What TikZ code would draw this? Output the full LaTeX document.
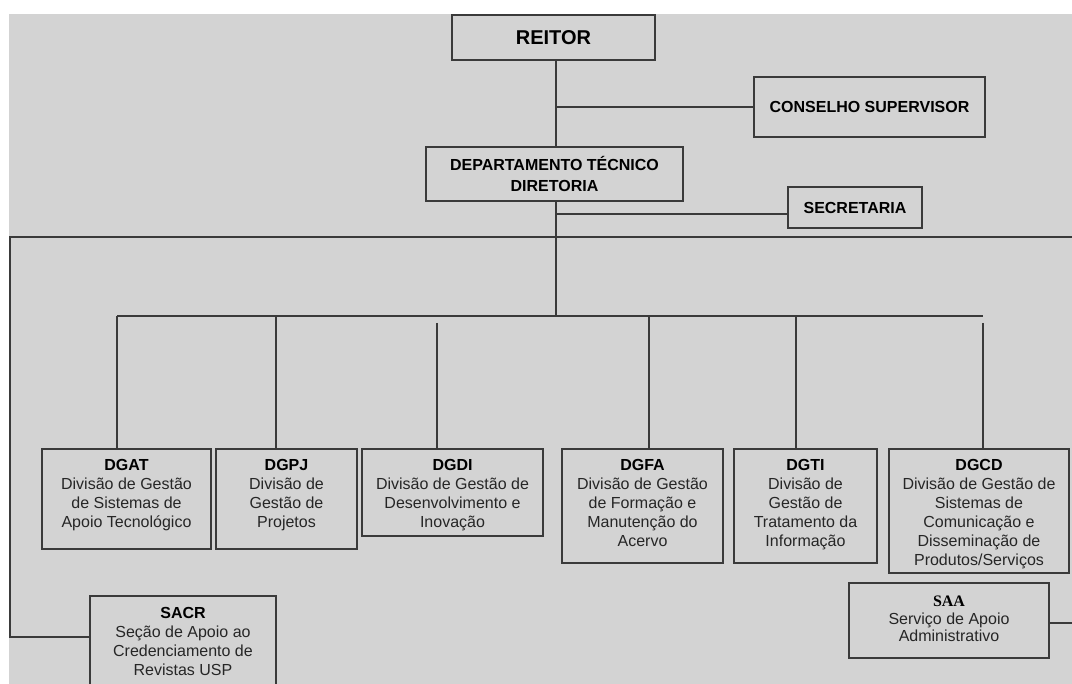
\documentclass[tikz,border=0pt]{standalone}
\usepackage{fontspec}
\setmainfont{Liberation Sans}
\newfontfamily\serifbf{Liberation Serif}
\definecolor{bg}{HTML}{D3D3D3}
\definecolor{linec}{HTML}{3A3A3A}
\definecolor{txtc}{HTML}{262626}
\begin{document}
\begin{tikzpicture}[x=1pt,y=-1pt,
  orgbox/.style={draw=linec, line width=1.6pt, anchor=north west, inner sep=0pt, outer sep=0pt},
  conn/.style={draw=linec, line width=1.6pt},
  headtxt/.style={font=\fontsize{16}{20.5}\selectfont\bfseries, text=black, align=center},
  divtxt/.style={font=\fontsize{16}{19}\selectfont, text=txtc, align=center, anchor=north, inner sep=0pt},
]
\clip (0,0) rectangle (1072,684);
\fill[white] (0,0) rectangle (1072,684);
\fill[bg] (9,14) rectangle (1072,684);

% top boxes
\node[orgbox, minimum width=203pt, minimum height=45pt, font=\fontsize{20}{24}\selectfont\bfseries, text=black] (reitor) at (452,15) {REITOR};
\node[orgbox, headtxt, minimum width=231pt, minimum height=60pt] (cons) at (754,77) {CONSELHO SUPERVISOR};
\node[orgbox, headtxt, minimum width=257pt, minimum height=54pt] (dep) at (426,147) {DEPARTAMENTO TÉCNICO\\DIRETORIA};
\node[orgbox, headtxt, minimum width=134pt, minimum height=41pt] (sec) at (788,187) {SECRETARIA};

% division boxes
\node[orgbox, minimum width=169pt, minimum height=100pt] (dgat) at (42,449) {};
\node[divtxt] (dgat-t) at ([yshift=-10.5pt]dgat.north) {\textcolor{black}{\textbf{DGAT}}\\Divisão de Gestão\\de Sistemas de\\Apoio Tecnológico};

\node[orgbox, minimum width=141pt, minimum height=100pt] (dgpj) at (216,449) {};
\node[divtxt] (dgpj-t) at ([yshift=-10.5pt]dgpj.north) {\textcolor{black}{\textbf{DGPJ}}\\Divisão de\\Gestão de\\Projetos};

\node[orgbox, minimum width=181pt, minimum height=87pt] (dgdi) at (362,449) {};
\node[divtxt] (dgdi-t) at ([yshift=-10.5pt]dgdi.north) {\textcolor{black}{\textbf{DGDI}}\\Divisão de Gestão de\\Desenvolvimento e\\Inovação};

\node[orgbox, minimum width=161pt, minimum height=114pt] (dgfa) at (562,449) {};
\node[divtxt] (dgfa-t) at ([yshift=-10.5pt]dgfa.north) {\textcolor{black}{\textbf{DGFA}}\\Divisão de Gestão\\de Formação e\\Manutenção do\\Acervo};

\node[orgbox, minimum width=143pt, minimum height=114pt] (dgti) at (734,449) {};
\node[divtxt] (dgti-t) at ([yshift=-10.5pt]dgti.north) {\textcolor{black}{\textbf{DGTI}}\\Divisão de\\Gestão de\\Tratamento da\\Informação};

\node[orgbox, minimum width=180pt, minimum height=124pt] (dgcd) at (889,449) {};
\node[divtxt] (dgcd-t) at ([yshift=-10.5pt]dgcd.north) {\textcolor{black}{\textbf{DGCD}}\\Divisão de Gestão de\\Sistemas de\\Comunicação e\\Disseminação de\\Produtos/Serviços};

% lower boxes
\node[orgbox, minimum width=186pt, minimum height=120pt] (sacr) at (90,596) {};
\node[divtxt] (sacr-t) at ([yshift=-11pt]sacr.north) {\textcolor{black}{\textbf{SACR}}\\Seção de Apoio ao\\Credenciamento de\\Revistas USP};

\node[orgbox, minimum width=200pt, minimum height=75pt] (saa) at (849,583) {};
\node[divtxt, font=\fontsize{16}{17.5}\selectfont] (saa-t) at ([yshift=-13pt]saa.north) {\textcolor{black}{\serifbf\bfseries SAA}\\Serviço de Apoio\\Administrativo};

% connector coordinates
\coordinate (sp) at (556,107);
\coordinate (secj) at (556,214);
\coordinate (longL) at (10,237);
\coordinate (longR) at (1072,237);
\coordinate (sacrj) at (10,637);
\coordinate (busL) at (117,316);
\coordinate (busR) at (983,316);
\coordinate (d2) at (276,316);
\coordinate (d3) at (437,323);
\coordinate (d4) at (649,316);
\coordinate (d5) at (796,316);
\coordinate (d6) at (983,323);
\coordinate (saaR) at (1072,623);

% connectors
\draw[conn] (reitor.south -| sp) -- (dep.north -| sp);
\draw[conn] (sp) -- (sp -| cons.west);
\draw[conn] (dep.south -| sp) -- (sp |- busL);
\draw[conn] (secj) -- (secj -| sec.west);
\draw[conn] (longR) -- (longL) -- (sacrj) -- (sacrj -| sacr.west);
\draw[conn] (busL) -- (busR);
\draw[conn] (busL) -- (busL |- dgat.north);
\draw[conn] (d2) -- (d2 |- dgpj.north);
\draw[conn] (d3) -- (d3 |- dgdi.north);
\draw[conn] (d4) -- (d4 |- dgfa.north);
\draw[conn] (d5) -- (d5 |- dgti.north);
\draw[conn] (d6) -- (d6 |- dgcd.north);
\draw[conn] (saaR -| saa.east) -- (saaR);
\end{tikzpicture}
\end{document}
